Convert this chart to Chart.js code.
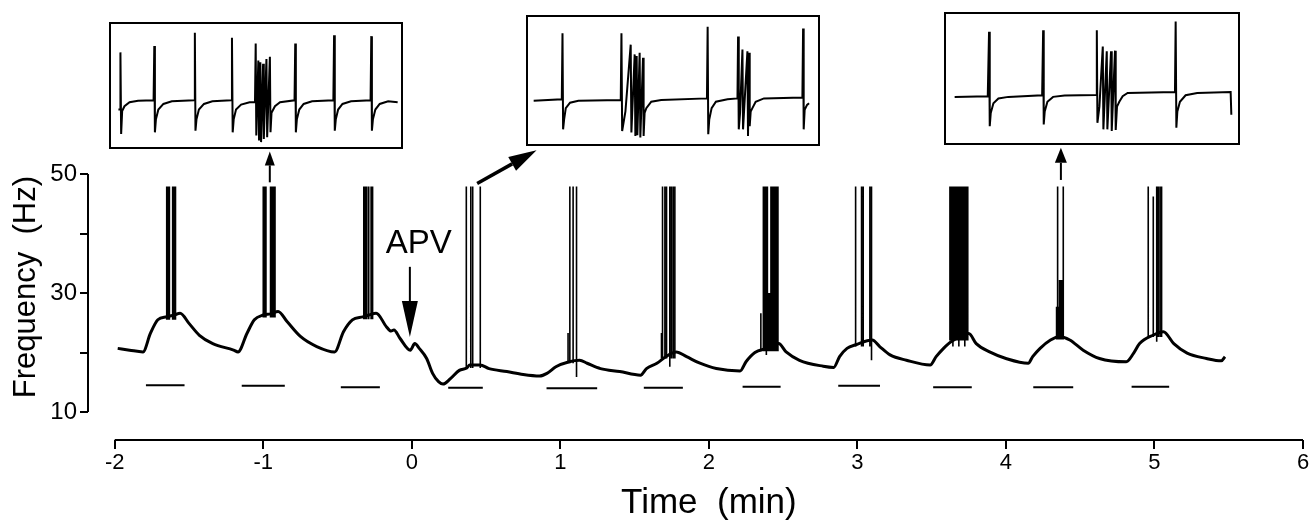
<!DOCTYPE html>
<html>
<head>
<meta charset="utf-8">
<script src="https://cdn.jsdelivr.net/npm/chart.js@4.4.1/dist/chart.umd.min.js"></script>
<style>
  html, body { margin: 0; padding: 0; background: #fff; }
  #wrap { position: relative; width: 1312px; height: 521px; }
  #main { position: absolute; left: 0; top: 0; }
  .inset { position: absolute; border: 2px solid #000; box-sizing: border-box; background: #fff; }
  .inset canvas { display: block; }
</style>
</head>
<body>
<div id="wrap">
  <canvas id="main" width="1312" height="521"></canvas>
  <div class="inset" style="left:109px;top:22px;width:294px;height:127px"><canvas id="inset1"></canvas></div>
  <div class="inset" style="left:526px;top:15px;width:294px;height:131px"><canvas id="inset2"></canvas></div>
  <div class="inset" style="left:944px;top:12px;width:296px;height:133px"><canvas id="inset3"></canvas></div>
</div>
<script>
// slow frequency trace (time in min, frequency in Hz)
const traceT = [-1.98,-1.90,-1.81,-1.76,-1.71,-1.65,-1.60,-1.56,-1.50,-1.43,-1.34,-1.20,-1.17,-1.11,-1.06,-1.00,-0.95,-0.90,-0.84,-0.75,
  -0.64,-0.52,-0.46,-0.40,-0.33,-0.29,-0.24,-0.17,-0.14,-0.12,-0.08,-0.01,0.02,0.05,0.10,0.14,0.18,0.21,0.26,0.32,
  0.37,0.39,0.46,0.52,0.64,0.75,0.86,0.91,0.97,1.06,1.13,1.18,1.27,1.40,1.54,1.58,1.65,1.71,1.78,1.85,
  1.94,2.05,2.21,2.25,2.31,2.39,2.47,2.52,2.61,2.77,2.84,2.88,2.93,2.99,3.10,3.15,3.22,3.33,3.49,3.53,
  3.58,3.63,3.75,3.80,3.89,4.00,4.15,4.18,4.23,4.30,4.36,4.43,4.52,4.63,4.81,4.86,4.90,4.99,5.06,5.13,
  5.22,5.35,5.45,5.475];
const traceHz = [20.7,20.4,20.1,23.2,25.5,26.0,26.3,26.6,24.9,22.9,21.5,20.4,20.1,23.2,25.5,26.3,26.5,26.9,25.2,22.7,
  21.0,20.1,23.5,25.5,26.0,26.3,26.6,24.3,23.6,23.8,22.4,20.4,21.5,20.7,19.0,16.5,15.1,14.7,15.6,17.0,
  17.4,17.9,17.9,17.3,16.8,16.3,16.05,16.5,17.6,18.45,18.7,18.2,17.3,16.8,16.2,17.3,18.2,19.3,20.1,19.3,
  18.2,17.3,16.9,18.45,20.0,20.7,21.5,20.1,18.7,17.7,17.5,19.3,20.7,21.3,22.1,21.0,19.6,18.7,17.9,19.3,
  20.7,21.8,23.2,21.5,20.1,19.0,18.2,19.3,20.7,22.1,22.7,22.1,20.4,19.0,18.45,19.9,21.5,22.9,23.5,21.5,
  19.9,19.0,18.6,19.3];

// spike bursts: [time, top, optional low end]
const burstBase = [25.5, 25.9, 25.6, 17.4, 18.2, 19.0, 20.2, 21.0, 22.0, 22.2, 22.6];
const burstSpikes = [
  [[-1.650,47.9],[-1.641,47.9],[-1.632,47.9],[-1.610,47.9],[-1.601,47.9],[-1.591,47.9]],
  [[-1.000,47.9],[-0.991,47.9],[-0.982,47.9],[-0.951,47.9],[-0.941,47.9],[-0.931,47.9],[-0.921,47.9]],
  [[-0.323,47.9],[-0.313,47.9],[-0.303,47.9],[-0.290,47.9],[-0.274,47.9],[-0.264,47.9]],
  [[0.367,47.9],[0.397,47.9],[0.410,47.9],[0.461,47.9]],
  [[1.052,23.3],[1.064,47.9],[1.086,47.9],[1.109,47.9,15.9]],
  [[1.681,23.3],[1.688,47.9],[1.704,47.9],[1.715,47.9],[1.737,47.9,17.6],[1.748,47.9],[1.760,47.9],[1.771,47.9]],
  [[2.350,26.6],[2.367,47.9],[2.374,47.9],[2.380,47.9],[2.387,47.9,19.6],[2.394,47.9],[2.401,30.0],[2.407,30.0],[2.412,30.0],
   [2.418,47.9],[2.424,47.9],[2.431,47.9],[2.438,47.9],[2.444,47.9],[2.451,47.9],[2.458,47.9],[2.465,47.9]],
  [[2.988,47.9],[3.028,47.9],[3.039,47.9],[3.084,47.9],[3.095,47.9,18.7]],
  [[3.623,47.9],[3.630,47.9],[3.636,47.9],[3.643,47.9,21.0],[3.650,47.9],[3.656,47.9],[3.663,47.9],[3.670,47.9],[3.676,47.9],
   [3.683,47.9,21.0],[3.690,47.9],[3.696,47.9],[3.703,47.9],[3.710,47.9],[3.716,47.9],[3.723,47.9,21.0],[3.730,47.9],[3.736,47.9],[3.743,47.9]],
  [[4.341,27.7],[4.345,27.7],[4.348,47.9],[4.352,27.7],[4.357,27.7],[4.361,32.2],[4.366,32.2],[4.371,32.2],[4.376,32.2],[4.381,32.2],[4.386,47.9]],
  [[4.958,47.9],[4.992,46.2],[5.015,47.9,21.8],[5.025,47.9],[5.037,47.9],[5.048,47.9]]
];

// stimulus bars
const barStart = [-1.79,-1.145,-0.478,0.245,0.907,1.562,2.227,2.871,3.51,4.184,4.846];
const barEnd   = [-1.53,-0.855,-0.215,0.478,1.248,1.825,2.483,3.152,3.77,4.453,5.099];
const barLevel = [14.5,14.4,14.15,14.1,14.0,14.1,14.25,14.4,14.15,14.15,14.25];

const xTicks = [-2, -1, 0, 1, 2, 3, 4, 5, 6];
const yTicks = [10, 20, 30, 40, 50];
const yLabelled = [10, 30, 50];

// inset recordings: [time, potential] in arbitrary units
const inset1 = [
  [7.3,38.3],[9.3,38.3],[9.3,96.7],[10,13.3],[11,36.7],[13.3,41.7],[18.3,45.7],[26.7,47.3],[42,47.7],
  [42.7,103.3],[43.3,15],[44.3,28.3],[46.7,38.3],[51.7,44],[60,46.7],[82,47.7],
  [82.7,116.7],[83.3,16.7],[84.3,28.3],[86.7,38.3],[91.7,44],[100,46.7],[118.7,47.7],
  [119.3,111.7],[120,15],[121,28.3],[123.3,38.3],[128.3,43.3],[136.7,45.7],[142,45.7],
  [142.7,105.7],[143.3,11.7],[145.3,88.3],[146,6.7],[147.3,86.7],[148,5],[150,85],[150.7,8.3],[153.3,90],[154,10],[156.7,92.3],[157.3,15],
  [158.3,35],[161.7,41.7],[166.7,45.7],[181,47.7],
  [181.7,105.7],[182.3,15],[183.3,28.3],[185.7,38.3],[190,44],[198.3,46.7],[219.3,47.7],
  [220,114.3],[220.7,16.7],[221.7,28.3],[224,38.3],[228.3,44],[236.7,46.7],[256,47.7],
  [256.7,113.3],[257.3,16.7],[258.3,28.3],[260.7,38.3],[265,44],[273.3,46.7],[282.7,45.7]
];
const inset2 = [
  [5.7,44.3],[34,45.7],[34.7,113.3],[35.3,15],[36.3,25],[38,36.7],[42.3,42.3],[50.7,44.3],[93.3,45],
  [94,113.3],[94.7,13.3],[98,33.3],[103.3,101.7],[104,11.7],[107.3,91.7],[108,8.3],[109.3,90],[110,9],[112.3,93.3],[113,6.7],[115.7,88.3],[116.3,8.3],[117.3,31.7],
  [119,36.7],[124,43.3],[134,45],[180,46.7],
  [180.7,120],[181.3,10],[182.3,25],[184.7,36.7],[189,43.3],[200.7,45.7],[210.7,46.7],
  [211.3,110],[212,15],[213.3,31.7],[215.7,96.7],[216.3,15],[220.7,95],[221.3,8.3],[222.3,93.3],[223,18.3],[224,33.3],
  [225.7,36.7],[229,43.3],[237.3,46.7],[276,47.7],
  [276.7,118.3],[277.3,15],[278.3,35],[280.7,40],[282.7,41.7]
];
const inset3 = [
  [8.7,47.3],[42,48],[43.3,114],[44,17.3],[45,30.7],[47.7,40.7],[52.7,45.7],[62.7,47.3],[96.7,49],
  [97.7,115.7],[98.3,19],[99.3,32.3],[102,42.3],[107.7,47.3],[119.3,48.7],[151,49.3],
  [151.7,115.7],[152.3,20.7],[154.3,37.3],[157.7,99],[158.3,14],[161.7,94],[162.3,14],[166,94],[166.7,12.3],[170,94.7],[170.7,13.3],[172,37.3],
  [174.3,42.3],[177.7,48],[182.7,51.3],[230.3,52.3],
  [231,124.7],[231.7,15.7],[232.7,32.3],[235.3,42.3],[241,49],[252.7,51.3],[286.3,52.3],[287,29]
];
const insetTimeMax = [286, 291.7, 293.7];
const insetPotMax = [125.7, 130, 132.3];

// annotation arrows, in data coordinates of the main plot
const pointers = [
  { from: [-0.956, 48.6], to: [-0.956, 53.8], head: 14, half: 5, width: 2 },
  { from: [0.44, 48.4], to: [0.84, 54.0], head: 28, half: 8, width: 3.5 },
  { from: [4.37, 49.0], to: [4.37, 54.4], head: 15, half: 6, width: 2 },
  { from: [-0.013, 34.4], to: [-0.013, 22.6], head: 36, half: 8, width: 2 }
];

const FONT = '"Liberation Sans", Arial, sans-serif';

const tracePts = traceT.map((t, i) => ({ x: t, y: traceHz[i] }));
const spikePts = [];
burstSpikes.forEach((burst, b) => {
  burst.forEach(s => {
    const low = s.length > 2 ? s[2] : burstBase[b];
    spikePts.push({ x: s[0], y: low }, { x: s[0], y: s[1] }, { x: s[0], y: null });
  });
});
const barPts = [];
barStart.forEach((s, i) => {
  barPts.push({ x: s, y: barLevel[i] }, { x: barEnd[i], y: barLevel[i] }, { x: barEnd[i], y: null });
});

function drawArrow(ctx, x1, y1, x2, y2, head, half, width) {
  const a = Math.atan2(y2 - y1, x2 - x1);
  const bx = x2 - head * Math.cos(a), by = y2 - head * Math.sin(a);
  ctx.lineWidth = width;
  ctx.beginPath();
  ctx.moveTo(x1, y1);
  ctx.lineTo(bx, by);
  ctx.stroke();
  ctx.beginPath();
  ctx.moveTo(x2, y2);
  ctx.lineTo(bx + half * Math.sin(a), by - half * Math.cos(a));
  ctx.lineTo(bx - half * Math.sin(a), by + half * Math.cos(a));
  ctx.closePath();
  ctx.fill();
}

const annotate = {
  id: 'annotate',
  afterDraw(chart) {
    const { ctx, chartArea } = chart;
    const x = chart.scales.x, y = chart.scales.y;
    ctx.save();
    ctx.strokeStyle = '#000';
    ctx.fillStyle = '#000';
    // axis lines only across the tick range
    ctx.lineWidth = 2;
    ctx.beginPath();
    ctx.moveTo(chartArea.left, y.getPixelForValue(yTicks[0]));
    ctx.lineTo(chartArea.left, y.getPixelForValue(yTicks[yTicks.length - 1]));
    ctx.moveTo(x.getPixelForValue(xTicks[0]), chartArea.bottom);
    ctx.lineTo(x.getPixelForValue(xTicks[xTicks.length - 1]), chartArea.bottom);
    ctx.stroke();

    pointers.forEach(p => {
      drawArrow(ctx, x.getPixelForValue(p.from[0]), y.getPixelForValue(p.from[1]),
        x.getPixelForValue(p.to[0]), y.getPixelForValue(p.to[1]), p.head, p.half, p.width);
    });

    ctx.font = '33px ' + FONT;
    ctx.textAlign = 'center';
    ctx.textBaseline = 'alphabetic';
    ctx.fillText('APV', x.getPixelForValue(0.047), y.getPixelForValue(36.7));

    ctx.font = '35px ' + FONT;
    ctx.fillText('Time  (min)', x.getPixelForValue((xTicks[0] + xTicks[xTicks.length - 1]) / 2), chartArea.bottom + 73);

    ctx.translate(35, y.getPixelForValue(31));
    ctx.rotate(-Math.PI / 2);
    ctx.font = '31px ' + FONT;
    ctx.fillText('Frequency  (Hz)', 0, 0);
    ctx.restore();
  }
};

new Chart(document.getElementById('main'), {
  type: 'line',
  data: {
    datasets: [
      { data: tracePts, borderColor: '#000', borderWidth: 3, pointRadius: 0, cubicInterpolationMode: 'monotone' },
      { data: spikePts, borderColor: '#000', borderWidth: 1.6, pointRadius: 0, spanGaps: false },
      { data: barPts, borderColor: '#000', borderWidth: 2, pointRadius: 0, spanGaps: false }
    ]
  },
  options: {
    responsive: false,
    animation: false,
    events: [],
    layout: { padding: { top: 174, right: 9, left: 0, bottom: 0 } },
    plugins: { legend: { display: false }, tooltip: { enabled: false } },
    scales: {
      x: {
        type: 'linear',
        min: -2.18,
        max: 6,
        afterFit: s => { s.height = 81; },
        afterBuildTicks: s => { s.ticks = xTicks.map(v => ({ value: v })); },
        border: { display: false },
        grid: { drawOnChartArea: false, color: '#000', lineWidth: 2, tickLength: 9 },
        ticks: { color: '#000', font: { family: FONT, size: 22 }, padding: 1, autoSkip: false, maxRotation: 0,
          callback: v => String(v) }
      },
      y: {
        type: 'linear',
        min: 5.3,
        max: 50,
        afterFit: s => { s.width = 88; },
        afterBuildTicks: s => { s.ticks = yTicks.map(v => ({ value: v })); },
        border: { display: false },
        grid: { drawOnChartArea: false, color: '#000', lineWidth: 2, tickLength: 8 },
        ticks: { color: '#000', font: { family: FONT, size: 24 }, padding: 3, autoSkip: false,
          callback: v => yLabelled.includes(v) ? String(v) : '' }
      }
    }
  },
  plugins: [annotate]
});

// inset recordings
[inset1, inset2, inset3].forEach((rec, i) => {
  const cv = document.getElementById('inset' + (i + 1));
  const box = cv.parentElement;
  cv.width = box.clientWidth;
  cv.height = box.clientHeight;
  new Chart(cv, {
    type: 'line',
    data: { datasets: [{ data: rec.map(p => ({ x: p[0], y: p[1] })), borderColor: '#000', borderWidth: 2, pointRadius: 0 }] },
    options: {
      responsive: false,
      animation: false,
      events: [],
      layout: { padding: 0 },
      plugins: { legend: { display: false }, tooltip: { enabled: false } },
      scales: {
        x: { type: 'linear', display: false, min: 0, max: insetTimeMax[i] },
        y: { type: 'linear', display: false, min: 0, max: insetPotMax[i] }
      }
    }
  });
});
</script>
</body>
</html>
